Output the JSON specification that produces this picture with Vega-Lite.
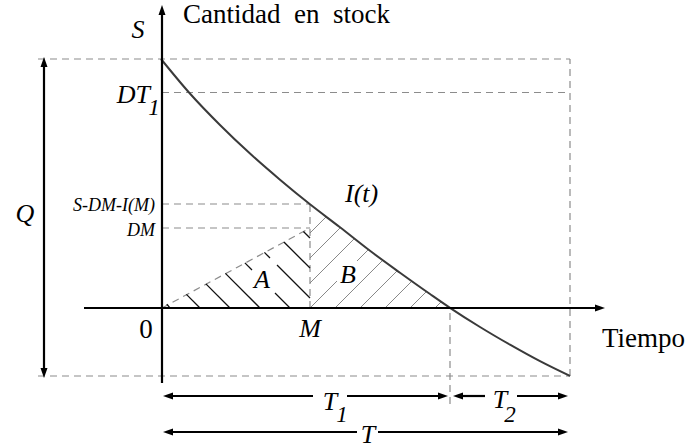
{
  "$schema": "https://vega.github.io/schema/vega-lite/v6.json",
  "width": 687,
  "height": 448,
  "padding": 0,
  "autosize": {"type": "none"},
  "background": "white",
  "config": {"view": {"stroke": null}},
  "datasets": {
    "dashed": [
      {"name": "S level", "t": -123, "q": 249, "t2": 409, "q2": 249},
      {"name": "DT1 level", "t": 1, "q": 215.5, "t2": 409, "q2": 215.5},
      {"name": "S-DM-I(M) level", "t": 1, "q": 104, "t2": 149, "q2": 104},
      {"name": "DM level", "t": 1, "q": 80, "t2": 149, "q2": 80},
      {"name": "M vertical", "t": 149, "q": 0, "t2": 149, "q2": 104},
      {"name": "A hypotenuse", "t": 1, "q": 0, "t2": 149, "q2": 80},
      {"name": "bottom level", "t": -123, "q": -68, "t2": 409, "q2": -68},
      {"name": "T vertical", "t": 409, "q": -68, "t2": 409, "q2": 249},
      {"name": "T1 vertical", "t": 289, "q": -96, "t2": 289, "q2": 0}
    ],
    "solid": [
      {"name": "stock axis", "t": 1, "q": -75, "t2": 1, "q2": 298},
      {"name": "time axis", "t": -77, "q": 0, "t2": 439, "q2": 0},
      {"name": "Q", "t": -117, "q": -65, "t2": -117, "q2": 246},
      {"name": "T1 a", "t": 7, "q": -88, "t2": 152, "q2": -88},
      {"name": "T1 b", "t": 186, "q": -88, "t2": 282, "q2": -88},
      {"name": "T2 a", "t": 297, "q": -88, "t2": 324, "q2": -88},
      {"name": "T2 b", "t": 356, "q": -88, "t2": 402, "q2": -88},
      {"name": "T a", "t": 7, "q": -124, "t2": 196, "q2": -124},
      {"name": "T b", "t": 217, "q": -124, "t2": 402, "q2": -124}
    ],
    "heads": [
      {"t": 1, "q": 298, "dir": "up"},
      {"t": 439, "q": 0, "dir": "right"},
      {"t": -117, "q": 246, "dir": "up"},
      {"t": -117, "q": -65, "dir": "down"},
      {"t": 7, "q": -88, "dir": "left"},
      {"t": 282, "q": -88, "dir": "right"},
      {"t": 297, "q": -88, "dir": "left"},
      {"t": 402, "q": -88, "dir": "right"},
      {"t": 7, "q": -124, "dir": "left"},
      {"t": 402, "q": -124, "dir": "right"}
    ],
    "curve": [
      {"t": 0, "q": 249},
      {"t": 28, "q": 215.5},
      {"t": 59, "q": 183},
      {"t": 89, "q": 154.4},
      {"t": 119, "q": 128.3},
      {"t": 149, "q": 103.7},
      {"t": 179, "q": 80.7},
      {"t": 209, "q": 57.2},
      {"t": 239, "q": 35.3},
      {"t": 269, "q": 14},
      {"t": 289, "q": 0.2},
      {"t": 319, "q": -19},
      {"t": 349, "q": -36.7},
      {"t": 379, "q": -53.2},
      {"t": 409, "q": -68}
    ],
    "hatchA": [
      {"t": 5.8, "q": 3.8, "t2": 9, "q2": 0},
      {"t": 25.4, "q": 13.6, "t2": 39, "q2": 0},
      {"t": 44.9, "q": 24.1, "t2": 69, "q2": 0},
      {"t": 64.4, "q": 34.6, "t2": 99, "q2": 0},
      {"t": 83.9, "q": 45.1, "t2": 91, "q2": 38},
      {"t": 114, "q": 15, "t2": 129, "q2": 0},
      {"t": 103.4, "q": 55.6, "t2": 109, "q2": 50},
      {"t": 116, "q": 43, "t2": 149, "q2": 10},
      {"t": 122.9, "q": 66, "t2": 149, "q2": 40},
      {"t": 142.4, "q": 76.5, "t2": 149, "q2": 70}
    ],
    "hatchB": [
      {"t": 149, "q": 75, "t2": 165.2, "q2": 91.2},
      {"t": 149, "q": 50, "t2": 179.4, "q2": 80.4},
      {"t": 149, "q": 25, "t2": 193.4, "q2": 69.4},
      {"t": 149, "q": 0, "t2": 176, "q2": 27},
      {"t": 196, "q": 47, "t2": 207.4, "q2": 58.4},
      {"t": 174, "q": 0, "t2": 221.8, "q2": 47.8},
      {"t": 199, "q": 0, "t2": 236.3, "q2": 37.3},
      {"t": 224, "q": 0, "t2": 250.9, "q2": 26.9},
      {"t": 249, "q": 0, "t2": 265.5, "q2": 16.5},
      {"t": 274, "q": 0, "t2": 280.2, "q2": 6.2}
    ],
    "labelsCenter": [
      {"t": -23, "q": 270, "text": "S"},
      {"t": -136, "q": 86, "text": "Q"},
      {"t": 149, "q": -29, "text": "M"},
      {"t": 101, "q": 20, "text": "A"},
      {"t": 187, "q": 25, "text": "B"},
      {"t": 169, "q": -102, "text": "T"},
      {"t": 339, "q": -100, "text": "T"},
      {"t": 207, "q": -135, "text": "T"}
    ],
    "labelsLeft": [
      {"t": 184, "q": 106, "text": "I(t)"}
    ],
    "labelsRight": [
      {"t": -11, "q": 205, "text": "DT"}
    ],
    "subs": [
      {"t": -7, "q": 193, "text": "1"},
      {"t": 181, "q": -114, "text": "1"},
      {"t": 349, "q": -114, "text": "2"}
    ],
    "small": [
      {"t": -6, "q": 97, "text": "S-DM-I(M)"},
      {"t": -6, "q": 72, "text": "DM"}
    ],
    "upright": [
      {"t": -15, "q": -30, "text": "0"}
    ],
    "titles": [
      {"t": 441, "q": -39, "text": "Tiempo"},
      {"t": 22, "q": 285, "text": "Cantidad\u00a0 en\u00a0 stock"}
    ]
  },
  "encoding": {
    "x": {"field": "t", "type": "quantitative", "scale": {"domain": [-161, 526], "nice": false, "zero": false}, "axis": null},
    "y": {"field": "q", "type": "quantitative", "scale": {"domain": [-140, 308], "nice": false, "zero": false}, "axis": null}
  },
  "layer": [
    {
      "data": {"name": "dashed"},
      "mark": {"type": "rule", "color": "#8c8c8c", "strokeWidth": 1.2, "strokeDash": [7, 5]},
      "encoding": {"x2": {"field": "t2"}, "y2": {"field": "q2"}}
    },
    {
      "data": {"name": "hatchB"},
      "mark": {"type": "rule", "color": "#7a7a7a", "strokeWidth": 0.9},
      "encoding": {"x2": {"field": "t2"}, "y2": {"field": "q2"}}
    },
    {
      "data": {"name": "hatchA"},
      "mark": {"type": "rule", "color": "#111111", "strokeWidth": 1.3},
      "encoding": {"x2": {"field": "t2"}, "y2": {"field": "q2"}}
    },
    {
      "data": {"name": "curve"},
      "mark": {"type": "line", "color": "#3a3a3a", "strokeWidth": 2, "interpolate": "monotone"},
      "encoding": {}
    },
    {
      "data": {"name": "solid"},
      "mark": {"type": "rule", "color": "#000000", "strokeWidth": 2.2},
      "encoding": {"x2": {"field": "t2"}, "y2": {"field": "q2"}}
    },
    {
      "data": {"name": "heads"},
      "mark": {"type": "point", "filled": true, "color": "#000000", "opacity": 1, "size": 100, "strokeWidth": 0},
      "encoding": {
        "shape": {"field": "dir", "type": "nominal", "legend": null,
          "scale": {"domain": ["up", "down", "left", "right"],
            "range": ["M0,-1L0.7,1L-0.7,1Z", "M0,1L0.7,-1L-0.7,-1Z", "M-1,0L1,-0.7L1,0.7Z", "M1,0L-1,-0.7L-1,0.7Z"]}}
      }
    },
    {
      "data": {"name": "labelsCenter"},
      "mark": {"type": "text", "font": "serif", "fontStyle": "italic", "fontSize": 26, "align": "center", "baseline": "alphabetic", "color": "#000000"},
      "encoding": {"text": {"field": "text"}}
    },
    {
      "data": {"name": "labelsLeft"},
      "mark": {"type": "text", "font": "serif", "fontStyle": "italic", "fontSize": 26, "align": "left", "baseline": "alphabetic", "color": "#000000"},
      "encoding": {"text": {"field": "text"}}
    },
    {
      "data": {"name": "labelsRight"},
      "mark": {"type": "text", "font": "serif", "fontStyle": "italic", "fontSize": 26, "align": "right", "baseline": "alphabetic", "color": "#000000"},
      "encoding": {"text": {"field": "text"}}
    },
    {
      "data": {"name": "subs"},
      "mark": {"type": "text", "font": "serif", "fontStyle": "italic", "fontSize": 23, "align": "center", "baseline": "alphabetic", "color": "#000000"},
      "encoding": {"text": {"field": "text"}}
    },
    {
      "data": {"name": "small"},
      "mark": {"type": "text", "font": "serif", "fontStyle": "italic", "fontSize": 18, "align": "right", "baseline": "alphabetic", "color": "#000000"},
      "encoding": {"text": {"field": "text"}}
    },
    {
      "data": {"name": "upright"},
      "mark": {"type": "text", "font": "serif", "fontSize": 27, "align": "center", "baseline": "alphabetic", "color": "#000000"},
      "encoding": {"text": {"field": "text"}}
    },
    {
      "data": {"name": "titles"},
      "mark": {"type": "text", "font": "serif", "fontSize": 27, "align": "left", "baseline": "alphabetic", "color": "#000000"},
      "encoding": {"text": {"field": "text"}}
    }
  ]
}
